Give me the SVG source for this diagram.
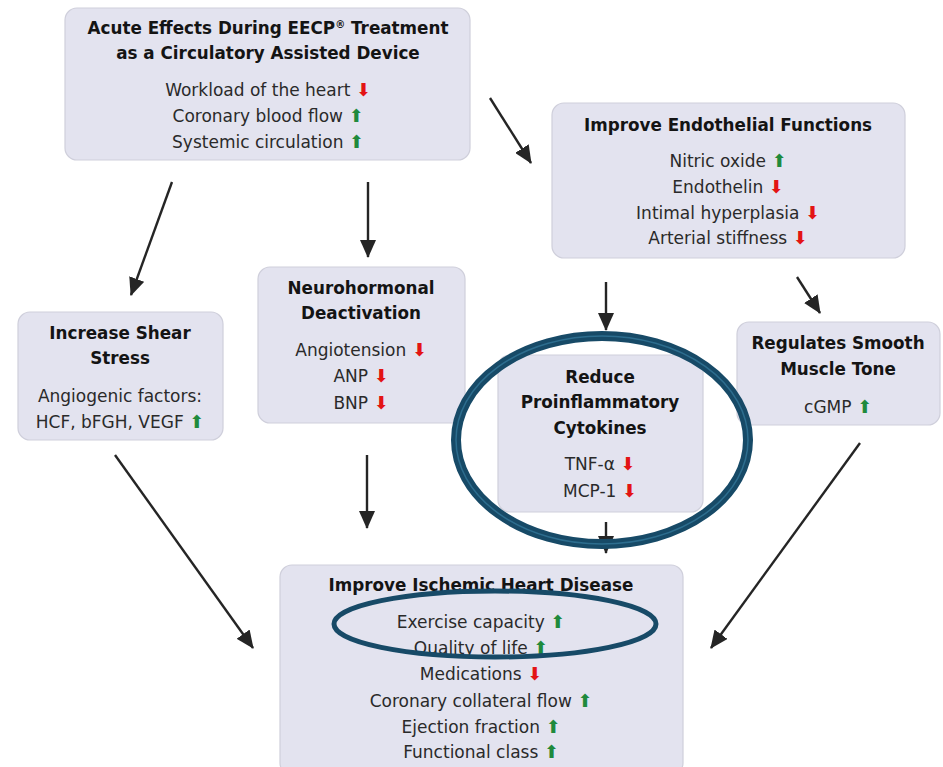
<svg xmlns="http://www.w3.org/2000/svg" width="943" height="767" viewBox="0 0 943 767">
  <style>
    .box { fill: #e3e3ef; stroke: #cfcfdb; stroke-width: 1.2; }
    .halo { fill: none; stroke: #ffffff; stroke-width: 3; }
    .t { font-family: "DejaVu Sans", "Liberation Sans", sans-serif; font-size: 16.8px; font-weight: bold; fill: #141414; text-anchor: middle; }
    .b { font-family: "DejaVu Sans", "Liberation Sans", sans-serif; font-size: 17px; fill: #2a2a2a; text-anchor: middle; }
    .up { font-family: "DejaVu Sans", sans-serif; font-size: 18px; fill: #1f8a3c; }
    .dn { font-family: "DejaVu Sans", sans-serif; font-size: 18px; fill: #e31414; }
    .conn { stroke: #252525; stroke-width: 2.4; fill: none; marker-end: url(#head); }
    .ring { fill: none; stroke: #174a67; }
    .ringline { fill: none; stroke: #2d6d8e; }
  </style>
  <defs>
    <marker id="head" viewBox="0 0 18 16" refX="17" refY="8" markerWidth="18" markerHeight="16" orient="auto" markerUnits="userSpaceOnUse">
      <path d="M0,0 L18,8 L0,16 Z" fill="#252525"/>
    </marker>
  </defs>

  <rect width="943" height="767" fill="#ffffff"/>

  <!-- connectors -->
  <g id="connectors">
    <line class="conn" x1="490" y1="98" x2="531" y2="163"/>
    <line class="conn" x1="172" y1="182" x2="131" y2="295"/>
    <line class="conn" x1="368" y1="182" x2="368" y2="257"/>
    <line class="conn" x1="606" y1="282" x2="606" y2="330"/>
    <line class="conn" x1="797" y1="277" x2="820" y2="313"/>
    <line class="conn" x1="115" y1="455" x2="253" y2="648"/>
    <line class="conn" x1="367" y1="455" x2="367" y2="528"/>
    <line class="conn" x1="606" y1="522" x2="606" y2="553"/>
    <line class="conn" x1="860" y1="443" x2="711" y2="648"/>
  </g>

  <!-- acute effects -->
  <g id="acute">
    <rect class="halo" x="65" y="8" width="405" height="152" rx="12"/>
    <rect class="box" x="65" y="8" width="405" height="152" rx="12"/>
    <text class="t" x="268" y="34">Acute Effects During EECP<tspan font-size="10" dy="-6">®</tspan><tspan dy="6"> Treatment</tspan></text>
    <text class="t" x="268" y="59">as a Circulatory Assisted Device</text>
    <text class="b" x="268" y="96">Workload of the heart <tspan class="dn">⬇</tspan></text>
    <text class="b" x="268" y="122">Coronary blood flow <tspan class="up">⬆</tspan></text>
    <text class="b" x="268" y="148">Systemic circulation <tspan class="up">⬆</tspan></text>
  </g>

  <!-- endothelial functions -->
  <g id="endothelial">
    <rect class="halo" x="552" y="103" width="353" height="155" rx="12"/>
    <rect class="box" x="552" y="103" width="353" height="155" rx="12"/>
    <text class="t" x="728" y="131">Improve Endothelial Functions</text>
    <text class="b" x="728" y="167">Nitric oxide <tspan class="up">⬆</tspan></text>
    <text class="b" x="728" y="193">Endothelin <tspan class="dn">⬇</tspan></text>
    <text class="b" x="728" y="219">Intimal hyperplasia <tspan class="dn">⬇</tspan></text>
    <text class="b" x="728" y="244">Arterial stiffness <tspan class="dn">⬇</tspan></text>
  </g>

  <!-- shear stress -->
  <g id="shear">
    <rect class="halo" x="18" y="312" width="205" height="128" rx="12"/>
    <rect class="box" x="18" y="312" width="205" height="128" rx="12"/>
    <text class="t" x="120" y="339">Increase Shear</text>
    <text class="t" x="120" y="364">Stress</text>
    <text class="b" x="120" y="402">Angiogenic factors:</text>
    <text class="b" x="120" y="428">HCF, bFGH, VEGF <tspan class="up">⬆</tspan></text>
  </g>

  <!-- neurohormonal -->
  <g id="neurohormonal">
    <rect class="halo" x="258" y="267" width="207" height="156" rx="12"/>
    <rect class="box" x="258" y="267" width="207" height="156" rx="12"/>
    <text class="t" x="361" y="294">Neurohormonal</text>
    <text class="t" x="361" y="319">Deactivation</text>
    <text class="b" x="361" y="356">Angiotension <tspan class="dn">⬇</tspan></text>
    <text class="b" x="361" y="382">ANP <tspan class="dn">⬇</tspan></text>
    <text class="b" x="361" y="409">BNP <tspan class="dn">⬇</tspan></text>
  </g>

  <!-- cytokines -->
  <g id="cytokines">
    <rect class="halo" x="498" y="355" width="205" height="157" rx="12"/>
    <rect class="box" x="498" y="355" width="205" height="157" rx="12"/>
    <text class="t" x="600" y="383">Reduce</text>
    <text class="t" x="600" y="408">Proinflammatory</text>
    <text class="t" x="600" y="434">Cytokines</text>
    <text class="b" x="600" y="470">TNF-α <tspan class="dn">⬇</tspan></text>
    <text class="b" x="600" y="497">MCP-1 <tspan class="dn">⬇</tspan></text>
  </g>

  <!-- smooth muscle -->
  <g id="smooth-muscle">
    <rect class="halo" x="737" y="322" width="203" height="103" rx="12"/>
    <rect class="box" x="737" y="322" width="203" height="103" rx="12"/>
    <text class="t" x="838" y="349">Regulates Smooth</text>
    <text class="t" x="838" y="375">Muscle Tone</text>
    <text class="b" x="838" y="413">cGMP <tspan class="up">⬆</tspan></text>
  </g>

  <!-- ischemic heart disease -->
  <g id="ischemic">
    <rect class="halo" x="280" y="565" width="403" height="210" rx="12"/>
    <rect class="box" x="280" y="565" width="403" height="210" rx="12"/>
    <text class="t" x="481" y="591">Improve Ischemic Heart Disease</text>
    <text class="b" x="481" y="628">Exercise capacity <tspan class="up">⬆</tspan></text>
    <text class="b" x="481" y="654">Quality of life <tspan class="up">⬆</tspan></text>
    <text class="b" x="481" y="680">Medications <tspan class="dn">⬇</tspan></text>
    <text class="b" x="481" y="707">Coronary collateral flow <tspan class="up">⬆</tspan></text>
    <text class="b" x="481" y="733">Ejection fraction <tspan class="up">⬆</tspan></text>
    <text class="b" x="481" y="758">Functional class <tspan class="up">⬆</tspan></text>
  </g>

  <!-- highlight rings -->
  <g id="highlights">
    <ellipse class="ring" cx="602" cy="440" rx="146" ry="104" stroke-width="10"/>
    <ellipse class="ringline" cx="602" cy="440" rx="146" ry="104" stroke-width="1.5"/>
    <ellipse class="ring" cx="495" cy="624" rx="161" ry="33" stroke-width="5"/>
  </g>
</svg>
